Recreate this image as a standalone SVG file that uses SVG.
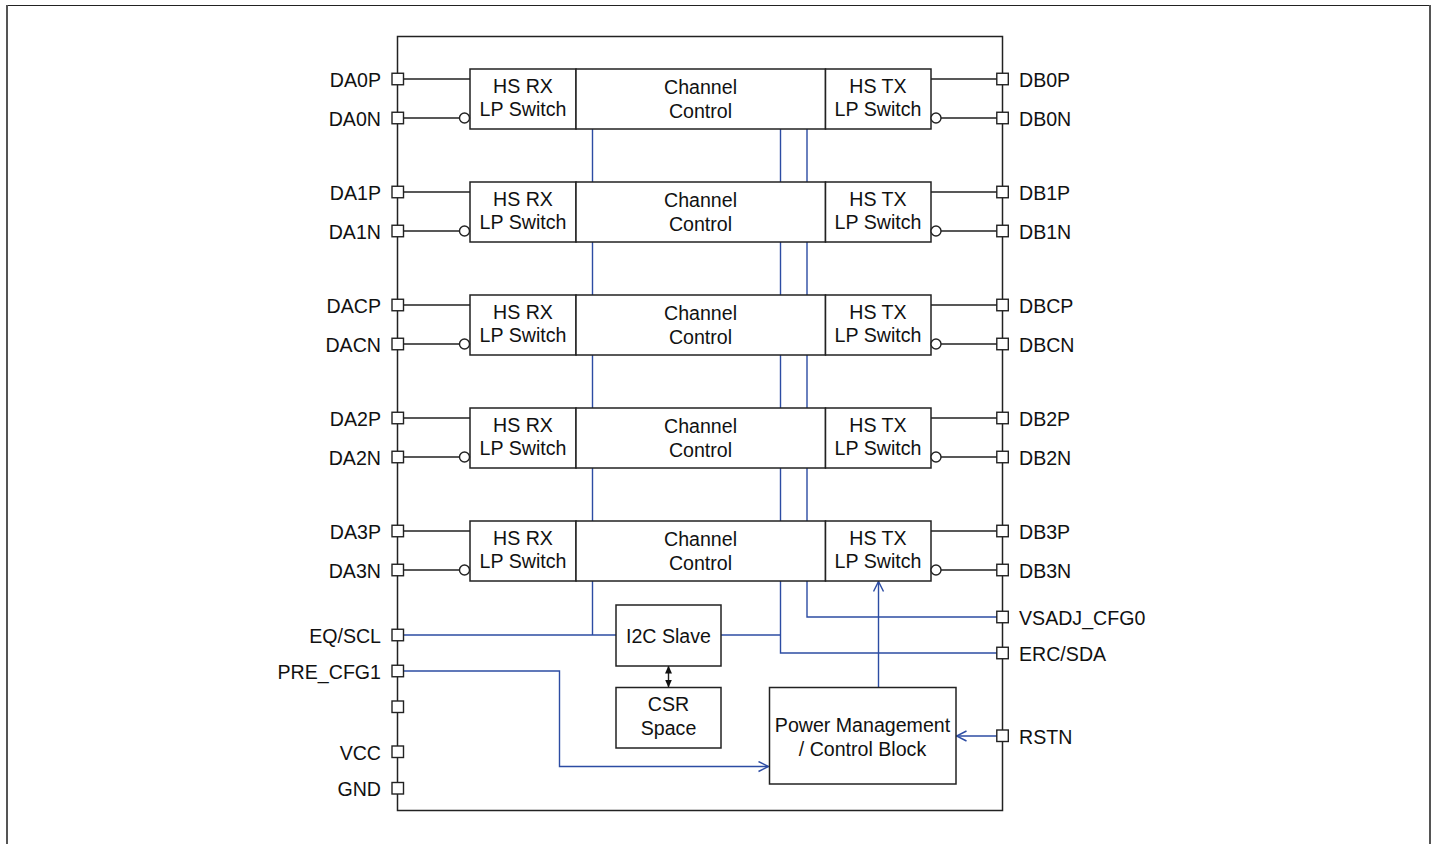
<svg xmlns="http://www.w3.org/2000/svg" width="1435" height="844" viewBox="0 0 1435 844">
<defs>
<style>
text{font-family:"Liberation Sans",Arial,sans-serif;font-size:19.6px;fill:#111}
.c{text-anchor:middle}
.e{text-anchor:end}
.box{fill:#fff;stroke:#222;stroke-width:1.5}
.pin{fill:#fff;stroke:#222;stroke-width:1.4}
.bl{fill:none;stroke:#222;stroke-width:1.4}
.bu{fill:none;stroke:#2c4ca3;stroke-width:1.4}
</style>
<marker id="oa" viewBox="0 0 12 12" refX="11" refY="6" markerWidth="12" markerHeight="12" markerUnits="userSpaceOnUse" orient="auto">
<path d="M1,1 L11,6 L1,11" fill="none" stroke="#2c4ca3" stroke-width="1.4"/>
</marker>
<marker id="ka" viewBox="0 0 8 8" refX="7.5" refY="4" markerWidth="8" markerHeight="8" markerUnits="userSpaceOnUse" orient="auto-start-reverse">
<path d="M0,0.5 L8,4 L0,7.5 Z" fill="#111"/>
</marker>
<g id="lane">
<rect class="box" x="470" y="0" width="106" height="60"/>
<rect class="box" x="576" y="0" width="249.5" height="60"/>
<rect class="box" x="825.5" y="0" width="105.5" height="60"/>
<text class="c" x="523" y="24">HS RX</text>
<text class="c" x="523" y="47">LP Switch</text>
<text class="c" x="700.5" y="25">Channel</text>
<text class="c" x="700.5" y="49">Control</text>
<text class="c" x="878" y="24">HS TX</text>
<text class="c" x="878" y="47">LP Switch</text>
<path class="bl" d="M403,10 H470 M403,49 H459.5 M931,10 H997 M941,49 H997"/>
<circle class="pin" cx="464.5" cy="49" r="5"/>
<circle class="pin" cx="936" cy="49" r="5"/>
<rect class="pin" x="392" y="4.25" width="11.5" height="11.5"/>
<rect class="pin" x="392" y="43.25" width="11.5" height="11.5"/>
<rect class="pin" x="996.8" y="4.25" width="11.5" height="11.5"/>
<rect class="pin" x="996.8" y="43.25" width="11.5" height="11.5"/>
</g>
</defs>

<g id="frame">
<line x1="6" y1="5.5" x2="1430" y2="5.5" stroke="#222" stroke-width="1.2"/>
<line x1="7" y1="5" x2="7" y2="844" stroke="#555" stroke-width="2"/>
<line x1="1430" y1="5" x2="1430" y2="844" stroke="#555" stroke-width="2"/>
</g>

<g id="chip">
<rect x="397.5" y="36.5" width="605" height="774" fill="none" stroke="#222" stroke-width="1.5"/>
</g>

<g id="connectors">
<path class="bu" d="M592.5,129 V182 M592.5,242 V295 M592.5,355 V408 M592.5,468 V521"/>
<path class="bu" d="M780.5,129 V182 M780.5,242 V295 M780.5,355 V408 M780.5,468 V521"/>
<path class="bu" d="M807,129 V182 M807,242 V295 M807,355 V408 M807,468 V521"/>
<path class="bu" d="M403,635 H616 M592.5,581 V635"/>
<path class="bu" d="M721,635 H780.5"/>
<path class="bu" d="M780.5,581 V653 H997"/>
<path class="bu" d="M807,581 V617 H997"/>
<path class="bu" d="M403,671 H559.5 V766.5 H768.5" marker-end="url(#oa)"/>
<path class="bu" d="M997,736 H956.5" marker-end="url(#oa)"/>
<path class="bu" d="M878.5,687 V581.5" marker-end="url(#oa)"/>
<path class="bl" d="M668.5,666 V687" marker-start="url(#ka)" marker-end="url(#ka)"/>
</g>

<g id="lane0" transform="translate(0,69)"><use href="#lane"/></g>
<g id="lane1" transform="translate(0,182)"><use href="#lane"/></g>
<g id="laneC" transform="translate(0,295)"><use href="#lane"/></g>
<g id="lane2" transform="translate(0,408)"><use href="#lane"/></g>
<g id="lane3" transform="translate(0,521)"><use href="#lane"/></g>

<g id="i2c">
<rect class="box" x="616" y="605" width="105" height="61"/>
<text class="c" x="668.5" y="643">I2C Slave</text>
</g>
<g id="csr">
<rect class="box" x="616" y="687.5" width="105" height="60.5"/>
<text class="c" x="668.5" y="711">CSR</text>
<text class="c" x="668.5" y="735">Space</text>
</g>
<g id="pmb">
<rect class="box" x="769.5" y="687.5" width="186.5" height="96.5"/>
<text class="c" x="862.5" y="732">Power Management</text>
<text class="c" x="862.5" y="756">/ Control Block</text>
</g>

<g id="pins">
<rect class="pin" x="392" y="629.25" width="11.5" height="11.5"/>
<rect class="pin" x="392" y="665.25" width="11.5" height="11.5"/>
<rect class="pin" x="392" y="701" width="11.5" height="11.5"/>
<rect class="pin" x="392" y="746" width="11.5" height="11.5"/>
<rect class="pin" x="392" y="782.5" width="11.5" height="11.5"/>
<rect class="pin" x="996.8" y="611.25" width="11.5" height="11.5"/>
<rect class="pin" x="996.8" y="647.25" width="11.5" height="11.5"/>
<rect class="pin" x="996.8" y="730" width="11.5" height="11.5"/>
</g>

<g id="labels">
<text class="e" x="381" y="87">DA0P</text>
<text class="e" x="381" y="126">DA0N</text>
<text class="e" x="381" y="200">DA1P</text>
<text class="e" x="381" y="239">DA1N</text>
<text class="e" x="381" y="313">DACP</text>
<text class="e" x="381" y="352">DACN</text>
<text class="e" x="381" y="426">DA2P</text>
<text class="e" x="381" y="465">DA2N</text>
<text class="e" x="381" y="539">DA3P</text>
<text class="e" x="381" y="578">DA3N</text>
<text class="e" x="381" y="643">EQ/SCL</text>
<text class="e" x="381" y="679">PRE_CFG1</text>
<text class="e" x="381" y="760">VCC</text>
<text class="e" x="381" y="796">GND</text>
<text x="1019" y="87">DB0P</text>
<text x="1019" y="126">DB0N</text>
<text x="1019" y="200">DB1P</text>
<text x="1019" y="239">DB1N</text>
<text x="1019" y="313">DBCP</text>
<text x="1019" y="352">DBCN</text>
<text x="1019" y="426">DB2P</text>
<text x="1019" y="465">DB2N</text>
<text x="1019" y="539">DB3P</text>
<text x="1019" y="578">DB3N</text>
<text x="1019" y="625">VSADJ_CFG0</text>
<text x="1019" y="661">ERC/SDA</text>
<text x="1019" y="744">RSTN</text>
</g>
</svg>
